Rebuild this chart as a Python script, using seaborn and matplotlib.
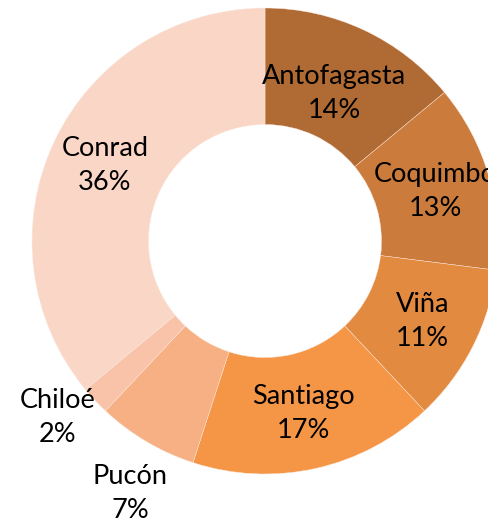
import numpy as np
import matplotlib
matplotlib.use("Agg")
import matplotlib.pyplot as plt
import seaborn as sns

# datos del gráfico (porcentaje por sede)
sedes = ['Antofagasta', 'Coquimbo', 'Viña', 'Santiago', 'Pucón', 'Chiloé', 'Conrad']
porcentajes = [14, 13, 11, 17, 7, 2, 36]
colores = ['#B06A33', '#CB7B3B', '#E38A41', '#F59647', '#F6B083', '#F8C3A8', '#F9D6C6']

sns.set_theme(style='white')
plt.rcParams['font.family'] = ['Lato', 'DejaVu Sans']

fig = plt.figure(figsize=(4.89, 5.22), dpi=100)
ax = fig.add_axes([0, 0, 1, 1])

wedges, _ = ax.pie(porcentajes, colors=sns.color_palette(colores), startangle=90,
                   counterclock=False, radius=1,
                   wedgeprops=dict(width=0.5, edgecolor='#FBE9E0', linewidth=0.3))

# etiquetas: (radio, giro en grados) — las dos pequeñas van afuera
pos = {'Antofagasta': (0.70, 0), 'Pucón': (1.23, 2.5), 'Chiloé': (1.17, -2.8)}
total = sum(porcentajes)
for w, nombre, p in zip(wedges, sedes, porcentajes):
    r, giro = pos.get(nombre, (0.76, 0))
    ang = np.deg2rad((w.theta1 + w.theta2) / 2 + giro)
    ax.text(r * np.cos(ang), r * np.sin(ang), f"{nombre}\n{round(100 * p / total)}%",
            ha='center', va='center', fontsize=19.5, color='black', linespacing=1.45)

ax.set_xlim(-265 / 233, (489 - 265) / 233)
ax.set_ylim(-(522 - 241) / 233, 241 / 233)
ax.set_aspect('auto')
ax.axis('off')

fig.savefig('out.png', dpi=100)
